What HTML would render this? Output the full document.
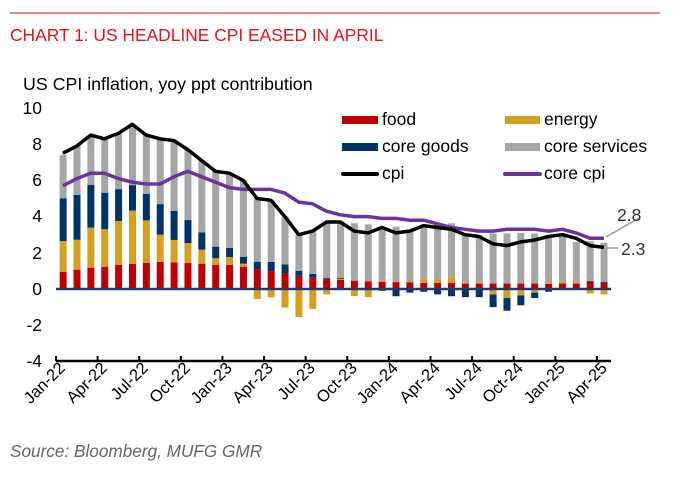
<!DOCTYPE html>
<html><head><meta charset="utf-8"><style>
html,body{margin:0;padding:0;background:#fff;}
svg{display:block;font-family:"Liberation Sans",Arial,sans-serif;}
</style></head><body>
<svg id="c" width="699" height="477" viewBox="0 0 699 477" xmlns="http://www.w3.org/2000/svg">
<line x1="10" y1="13" x2="660" y2="13" stroke="#d0101a" stroke-width="1"/>
<text x="10" y="41" font-size="17.4" fill="#e8101e">CHART 1: US HEADLINE CPI EASED IN APRIL</text>
<text x="23" y="90" font-size="17.8" fill="#000">US CPI inflation, yoy ppt contribution</text>
<g font-size="17.5" fill="#000" text-anchor="end">
<text x="42" y="114">10</text><text x="42" y="150">8</text><text x="42" y="186">6</text>
<text x="42" y="222">4</text><text x="42" y="259">2</text><text x="42" y="295">0</text>
<text x="42" y="331">-2</text><text x="42" y="367">-4</text>
</g>
<g id="bars"></g>
<line x1="56" y1="289" x2="611" y2="289" stroke="#1f3a6e" stroke-width="2.5"/>
<g id="lines"></g>
<line x1="56" y1="361" x2="611" y2="361" stroke="#000" stroke-width="2.5"/>
<g id="ticks"></g>
<g font-size="16.5" fill="#000" text-anchor="end">
<text transform="translate(66,369) rotate(-45)">Jan-22</text>
<text transform="translate(108,369) rotate(-45)">Apr-22</text>
<text transform="translate(149,369) rotate(-45)">Jul-22</text>
<text transform="translate(191,369) rotate(-45)">Oct-22</text>
<text transform="translate(233,369) rotate(-45)">Jan-23</text>
<text transform="translate(274,369) rotate(-45)">Apr-23</text>
<text transform="translate(316,369) rotate(-45)">Jul-23</text>
<text transform="translate(358,369) rotate(-45)">Oct-23</text>
<text transform="translate(399,369) rotate(-45)">Jan-24</text>
<text transform="translate(441,369) rotate(-45)">Apr-24</text>
<text transform="translate(483,369) rotate(-45)">Jul-24</text>
<text transform="translate(524,369) rotate(-45)">Oct-24</text>
<text transform="translate(566,369) rotate(-45)">Jan-25</text>
<text transform="translate(608,369) rotate(-45)">Apr-25</text>
</g>
<g font-size="17.5" fill="#000">
<rect x="342" y="116" width="36" height="8" fill="#c00000"/><text x="382" y="125">food</text>
<rect x="505" y="116" width="35" height="8" fill="#d4a020"/><text x="544" y="125">energy</text>
<rect x="342" y="143" width="36" height="8" fill="#003366"/><text x="382" y="152">core goods</text>
<rect x="505" y="143" width="35" height="8" fill="#a6a6a6"/><text x="544" y="152">core services</text>
<line x1="343" y1="174" x2="377" y2="174" stroke="#000" stroke-width="4" stroke-linecap="round"/><text x="382" y="179">cpi</text>
<line x1="505" y1="174" x2="540" y2="174" stroke="#7030a0" stroke-width="4" stroke-linecap="round"/><text x="544" y="179">core cpi</text>
</g>
<line x1="606" y1="237" x2="639" y2="218" stroke="#999" stroke-width="1.5"/>
<line x1="607" y1="248" x2="618" y2="248" stroke="#999" stroke-width="1.5"/>
<text x="617" y="221" font-size="17.5" fill="#333">2.8</text>
<text x="621" y="255" font-size="17.5" fill="#333">2.3</text>
<text x="10" y="457" font-size="17.2" font-style="italic" fill="#666">Source: Bloomberg, MUFG GMR</text>
</svg>
<script>
var food=[0.95,1.07,1.18,1.23,1.34,1.38,1.45,1.5,1.47,1.44,1.4,1.34,1.33,1.23,1.1,0.99,0.86,0.73,0.62,0.55,0.5,0.44,0.42,0.4,0.38,0.36,0.34,0.34,0.33,0.3,0.3,0.3,0.3,0.3,0.3,0.28,0.3,0.3,0.4,0.35];
var en=[1.7,1.65,2.21,2.07,2.42,2.95,2.34,1.5,1.24,1.1,0.78,0.36,0.43,0.17,-0.55,-0.46,-1.03,-1.55,-1.1,-0.3,0.05,-0.39,-0.45,0.05,-0.05,0.05,0.2,0.2,0.3,0.05,0.05,-0.3,-0.5,-0.35,-0.2,0.05,0.1,0.05,-0.25,-0.3];
var cg=[2.35,2.48,2.37,2.02,1.76,1.41,1.47,1.69,1.6,1.27,0.95,0.64,0.51,0.38,0.41,0.51,0.5,0.27,0.21,0.05,0.05,0.02,0,-0.1,-0.35,-0.2,-0.15,-0.3,-0.4,-0.45,-0.45,-0.7,-0.7,-0.55,-0.3,-0.15,-0.05,0,0.05,0.05];
var tot=[7.4,7.9,8.5,8.3,8.6,9.0,8.5,8.3,8.2,7.7,7.1,6.5,6.4,6.0,5.0,4.9,4.0,3.0,3.2,3.7,3.72,3.63,3.57,3.39,3.44,3.3,3.54,3.57,3.63,3.07,2.98,3.07,3.07,3.1,3.07,2.98,3.03,2.6,2.64,2.56];
var cpi=[7.5,7.9,8.5,8.3,8.6,9.1,8.5,8.3,8.2,7.7,7.1,6.5,6.4,6.0,5.0,4.9,4.0,3.0,3.2,3.7,3.7,3.2,3.1,3.4,3.1,3.2,3.5,3.4,3.3,3.0,2.9,2.5,2.4,2.6,2.7,2.9,3.0,2.8,2.4,2.3];
var core=[5.7,6.1,6.4,6.4,6.1,5.9,5.8,5.8,6.2,6.5,6.2,5.9,5.6,5.5,5.5,5.5,5.3,4.8,4.7,4.3,4.1,4.0,4.0,3.9,3.9,3.8,3.8,3.6,3.4,3.3,3.2,3.2,3.3,3.3,3.3,3.2,3.3,3.1,2.8,2.8];
var Z=289,S=18.1,W=13.87,X0=56,ns="http://www.w3.org/2000/svg";
function r(g,x,v0,v1,c){if(Math.abs(v1-v0)<0.001)return;var e=document.createElementNS(ns,"rect");var y1=Z-S*Math.max(v0,v1),y2=Z-S*Math.min(v0,v1);e.setAttribute("x",x-3.3);e.setAttribute("width",7);e.setAttribute("y",y1);e.setAttribute("height",y2-y1);e.setAttribute("fill",c);g.appendChild(e);}
var g=document.getElementById("bars");
for(var i=0;i<40;i++){var x=X0+W*(i+0.5);var p=0,n=0;
[[food[i],"#c00000"],[en[i],"#d4a020"],[cg[i],"#003366"]].forEach(function(a){var v=a[0];if(v>=0){r(g,x,p,p+v,a[1]);p+=v;}else{r(g,x,n,n+v,a[1]);n+=v;}});
r(g,x,p,Math.max(p,tot[i]),"#a6a6a6");}
var L=document.getElementById("lines");
function pl(d,c,w){var pts=d.map(function(v,i){return (X0+W*(i+0.5)).toFixed(1)+","+(Z-S*v).toFixed(1)}).join(" ");var e=document.createElementNS(ns,"polyline");e.setAttribute("points",pts);e.setAttribute("fill","none");e.setAttribute("stroke",c);e.setAttribute("stroke-width",w);e.setAttribute("stroke-linejoin","round");L.appendChild(e);}
pl(core,"#7030a0",3.5);pl(cpi,"#000",3.5);
var T=document.getElementById("ticks");
for(var k=0;k<=40;k+=3){var e=document.createElementNS(ns,"line");var xx=X0+W*k;e.setAttribute("x1",xx);e.setAttribute("x2",xx);e.setAttribute("y1",356);e.setAttribute("y2",361);e.setAttribute("stroke","#000");e.setAttribute("stroke-width",2);T.appendChild(e);}
</script>
</body></html>
